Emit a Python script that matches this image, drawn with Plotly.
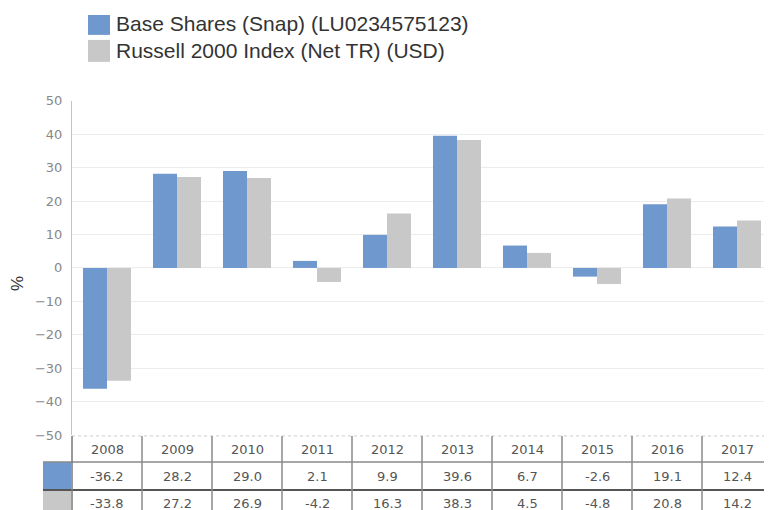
import plotly.graph_objects as go

years = ['2008', '2009', '2010', '2011', '2012', '2013', '2014', '2015', '2016', '2017']
base_shares = [-36.2, 28.2, 29.0, 2.1, 9.9, 39.6, 6.7, -2.6, 19.1, 12.4]
russell_2000 = [-33.8, 27.2, 26.9, -4.2, 16.3, 38.3, 4.5, -4.8, 20.8, 14.2]
series_names = ['Base Shares (Snap) (LU0234575123)', 'Russell 2000 Index (Net TR) (USD)']
colors = ['#6f98cf', '#c8c8c8']

# calibration of figure pixels to photographed window pixels
OFF_X = 8
OFF_Y, SY = 14.1, 0.9706
W, H = 772 - OFF_X, 512
def px(x):
    return (x - OFF_X) / W
def py(y):
    return 1 - ((y - OFF_Y) / SY) / H

fig = go.Figure()
for name, vals, col in zip(series_names, [base_shares, russell_2000], colors):
    fig.add_trace(go.Bar(x=years, y=vals, name=name, marker=dict(color=col, line=dict(width=0)),
                         showlegend=False))

shapes = []
annotations = []

# custom legend
for i, (name, col) in enumerate(zip(series_names, colors)):
    top = 12 + i * 27
    shapes.append(dict(type='rect', xref='paper', yref='paper', x0=px(88), x1=px(110),
                       y0=min(1, py(top)), y1=py(top + 22), fillcolor=col, line=dict(width=0)))
    annotations.append(dict(xref='paper', yref='paper', x=px(114), y=py(top + 11), text=name,
                            showarrow=False, xanchor='left', yanchor='middle',
                            font=dict(size=21, color='#333333', family='Liberation Sans, Arial')))

# y-axis title
annotations.append(dict(xref='paper', yref='paper', x=px(18), y=py(283), text='%', textangle=-90,
                        showarrow=False, xanchor='center', yanchor='middle',
                        font=dict(size=17, color='#333333', family='Liberation Sans, Arial')))

# data table below the chart
hdr_top, hdr_bot, r1_bot, r2_bot = 435, 461, 489, 517
row_centers = [449, 476, 503]
tfont = dict(size=13, color='#555555', family='DejaVu Sans')
for i, yr in enumerate(years):
    for txt, yc in zip([yr, f'{base_shares[i]:.1f}', f'{russell_2000[i]:.1f}'], row_centers):
        annotations.append(dict(xref='x', yref='paper', x=i, y=py(yc), text=txt,
                                showarrow=False, xanchor='center', yanchor='middle', font=tfont))

# swatch column
shapes.append(dict(type='rect', xref='paper', yref='paper', x0=px(43), x1=px(71),
                   y0=py(hdr_bot), y1=py(r1_bot), fillcolor=colors[0], line=dict(width=0)))
shapes.append(dict(type='rect', xref='paper', yref='paper', x0=px(43), x1=px(71),
                   y0=py(r1_bot), y1=0, fillcolor=colors[1], line=dict(width=0)))

# table lines
shapes.append(dict(type='line', xref='paper', yref='paper', x0=px(72), x1=1, y0=py(hdr_top), y1=py(hdr_top),
                   line=dict(color='#cccccc', width=1, dash='dot')))
shapes.append(dict(type='line', xref='paper', yref='paper', x0=px(43), x1=1, y0=py(hdr_bot), y1=py(hdr_bot),
                   line=dict(color='#8a8a8a', width=1.5)))
shapes.append(dict(type='line', xref='paper', yref='paper', x0=px(43), x1=1, y0=py(r1_bot), y1=py(r1_bot),
                   line=dict(color='#555555', width=2)))
shapes.append(dict(type='line', xref='paper', yref='paper', x0=px(72), x1=px(72), y0=py(hdr_top), y1=0,
                   line=dict(color='#777777', width=1.5)))
for i in range(len(years) - 1):
    shapes.append(dict(type='line', xref='x', yref='paper', x0=i + 0.5, x1=i + 0.5,
                       y0=py(hdr_top), y1=0, line=dict(color='#8a8a8a', width=1.5)))

fig.update_layout(
    width=W, height=H,
    margin=dict(l=0, r=0, t=0, b=0),
    paper_bgcolor='white', plot_bgcolor='white',
    barmode='group', bargap=0.314, bargroupgap=0.0,
    xaxis=dict(domain=[px(72), 1], type='category', range=[-0.5, len(years) - 0.5], autorange=False,
               showticklabels=False, showgrid=False,
               zeroline=False, showline=False, ticks=''),
    yaxis=dict(domain=[py(434), py(100)], range=[-50, 50], dtick=10, showgrid=True,
               gridcolor='#ececec', gridwidth=1, zeroline=False, showline=True,
               linecolor='#c4c4c4', linewidth=1, ticks='', ticklabelstandoff=6,
               tickfont=dict(size=13, color='#888888', family='DejaVu Sans')),
    shapes=shapes, annotations=annotations,
)

fig.write_html('out.html')
